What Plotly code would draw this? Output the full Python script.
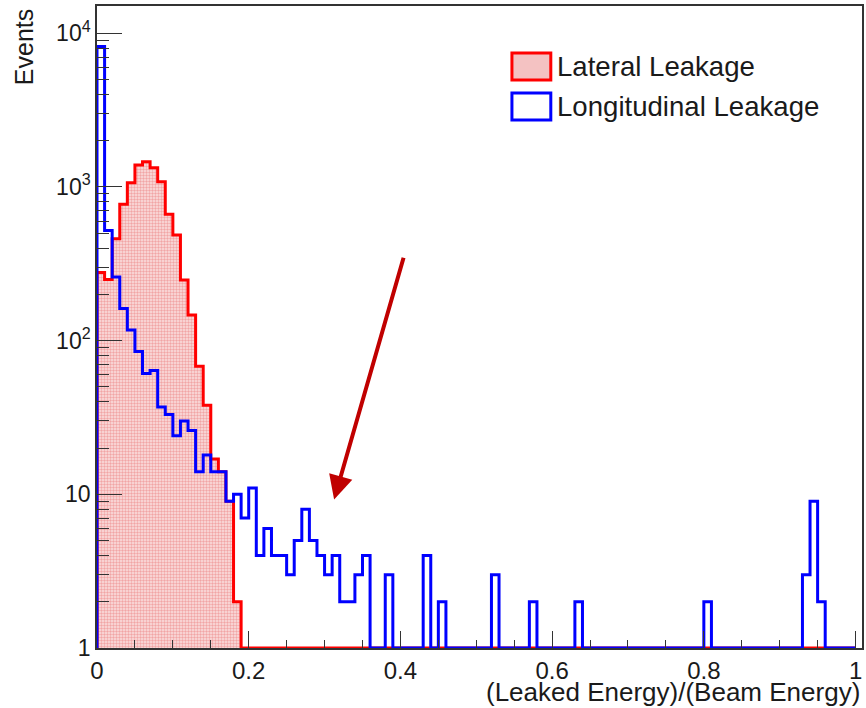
import numpy as np
import plotly.graph_objects as go

# ---- data (counts per bin of width 0.01 on [0, 1]) ----
bin_width = 0.01
lateral = [277, 250, 460, 770, 1065, 1390, 1460, 1330, 1080, 664,
           486, 248, 147, 68, 38, 17, 14, 9, 2] + [0] * 81
longitudinal = [8200, 520, 259, 162, 117, 85, 61, 64, 37, 33,
                24, 30, 26, 14, 18, 14, 14, 9, 10, 7,
                11, 4, 6, 4, 4, 3, 5, 8, 5, 4,
                3, 4, 2, 2, 3, 4, 0, 0, 3, 0,
                0, 0, 0, 4, 0, 2, 0, 0, 0, 0,
                0, 0, 3, 0, 0, 0, 0, 2, 0, 0,
                0, 0, 0, 2, 0, 0, 0, 0, 0, 0,
                0, 0, 0, 0, 0, 0, 0, 0, 0, 0,
                2, 0, 0, 0, 0, 0, 0, 0, 0, 0,
                0, 0, 0, 3, 9, 2, 0, 0, 0, 0]
series_names = ["Lateral Leakage", "Longitudinal Leakage"]
x_ticks = [0, 0.2, 0.4, 0.6, 0.8, 1]
x_ticktext = ["0", "0.2", "0.4", "0.6", "0.8", "1"]
y_ticks = [1, 10, 100, 1000, 10000]
y_ticktext = ["1", "10", "10<sup>2</sup>", "10<sup>3</sup>", "10<sup>4</sup>"]

YMIN = 1.0
YMAX_LOG = 4.177

edges = np.round(np.arange(len(lateral) + 1) * bin_width, 6)


def step_xy(vals):
    v = np.asarray(vals, dtype=float)
    v = np.where(v > 0, v, YMIN)
    ys = np.concatenate([[YMIN], v, [v[-1]], [YMIN]])
    xs = np.concatenate([[edges[0]], edges, [edges[-1]]])
    return xs, ys


FONT = "Liberation Sans, Arial, sans-serif"

fig = go.Figure()

xr, yr = step_xy(lateral)
fig.add_trace(go.Scatter(
    x=xr, y=yr, mode="lines", line=dict(color="#ff0000", width=3, shape="hv"),
    fill="toself", fillcolor="rgba(0,0,0,0)",
    fillpattern=dict(shape=".", fgcolor="#e86a6a", bgcolor="#fae0e0", size=3, solidity=0.5),
    name=series_names[0], showlegend=False, hoverinfo="skip"))

xb, yb = step_xy(longitudinal)
fig.add_trace(go.Scatter(
    x=xb, y=yb, mode="lines", line=dict(color="#0000ff", width=3, shape="hv"),
    name=series_names[1], showlegend=False, hoverinfo="skip"))

axis_line = dict(showline=True, linecolor="#333333", linewidth=1.5, mirror=True,
                 showgrid=False, zeroline=False)

fig.update_xaxes(
    range=[0, 1.0085], tickvals=x_ticks, ticktext=x_ticktext,
    ticks="inside", ticklen=17, tickwidth=1.2, tickcolor="#333333",
    minor=dict(ticks="inside", ticklen=8, dtick=0.05, tick0=0, tickwidth=1.2, tickcolor="#333333"),
    tickfont=dict(family=FONT, size=24, color="#1a1a1a"),
    **axis_line)

fig.update_yaxes(
    type="log", range=[0, YMAX_LOG], tickvals=y_ticks, ticktext=y_ticktext,
    ticks="inside", ticklen=25, tickwidth=1.2, tickcolor="#333333",
    minor=dict(ticks="inside", ticklen=12, dtick="D1", tickwidth=1.2, tickcolor="#333333"),
    tickfont=dict(family=FONT, size=23, color="#1a1a1a"),
    **axis_line)

# legend drawn in paper coordinates
legend_items = [
    dict(y0=0.8847, y1=0.9268, line="#ff0000", fill="#f4c2c2", text=series_names[0], ty=0.905),
    dict(y0=0.8224, y1=0.8645, line="#0000ff", fill="white", text=series_names[1], ty=0.8427),
]
shapes = []
annotations = []
for it in legend_items:
    shapes.append(dict(type="rect", xref="paper", yref="paper", x0=0.5424, x1=0.5932,
                       y0=it["y0"], y1=it["y1"], line=dict(color=it["line"], width=3),
                       fillcolor=it["fill"]))
    annotations.append(dict(xref="paper", yref="paper", x=0.5985, y=it["ty"], text=it["text"],
                            showarrow=False, xanchor="left", yanchor="middle",
                            font=dict(family=FONT, size=27.6, color="#1a1a1a")))

# arrow
annotations.append(dict(x=0.3126, y=0.966, ax=0.4047, ay=2.549, xref="x", yref="y",
                        axref="x", ayref="y", text="", showarrow=True, arrowhead=2,
                        arrowsize=1.2, arrowwidth=4, arrowcolor="#c00000", standoff=0))

# axis titles
annotations.append(dict(xref="paper", yref="paper", x=1.0, y=-0.068, text="(Leaked Energy)/(Beam Energy)",
                        showarrow=False, xanchor="right", yanchor="middle",
                        font=dict(family=FONT, size=26, color="#1a1a1a")))
annotations.append(dict(xref="paper", yref="paper", x=-0.0952, y=0.9984, text="Events",
                        textangle=-90, showarrow=False, xanchor="center", yanchor="top",
                        font=dict(family=FONT, size=25, color="#1a1a1a")))

fig.update_layout(
    width=866, height=708,
    margin=dict(l=97, r=2, t=6, b=60),
    paper_bgcolor="white", plot_bgcolor="white",
    shapes=shapes, annotations=annotations,
    showlegend=False,
)

fig.write_html("out.html")
